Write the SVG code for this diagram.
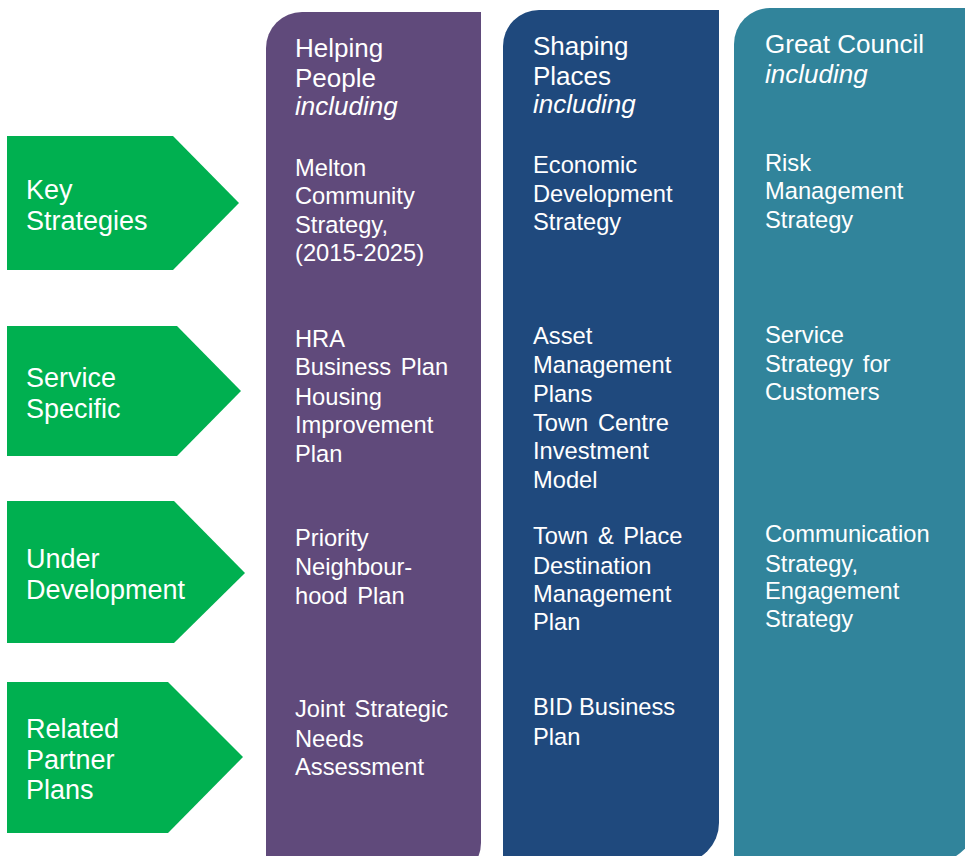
<svg xmlns="http://www.w3.org/2000/svg" width="965" height="856" viewBox="0 0 965 856">
<style>
text{font-family:"Liberation Sans",Arial,sans-serif;fill:#fff}
.h{font-size:26px}
.b{font-size:23.7px}
.g{font-size:27px}
.i{font-style:italic}
.ws{word-spacing:3px}
.green{fill:#00B050}
</style>
<rect width="965" height="856" fill="#fff"/>
<g id="col-helping-people">
<path d="M266,48 A36,36 0 0 1 302,12 H481 V843 A35,35 0 0 1 446,878 H266 Z" fill="#604A7B"/>
<text class="h" x="295" y="57">Helping</text>
<text class="h" x="295" y="87">People</text>
<text class="h i" x="295" y="115">including</text>
<text class="b" x="295" y="176">Melton</text>
<text class="b" x="295" y="204">Community</text>
<text class="b" x="295" y="233">Strategy,</text>
<text class="b" x="295" y="261">(2015-2025)</text>
<text class="b" x="295" y="347">HRA</text>
<text class="b ws" x="295" y="375">Business Plan</text>
<text class="b" x="295" y="405">Housing</text>
<text class="b" x="295" y="433">Improvement</text>
<text class="b" x="295" y="462">Plan</text>
<text class="b" x="295" y="546">Priority</text>
<text class="b" x="295" y="575">Neighbour-</text>
<text class="b ws" x="295" y="604">hood Plan</text>
<text class="b ws" x="295" y="717">Joint Strategic</text>
<text class="b" x="295" y="747">Needs</text>
<text class="b" x="295" y="775">Assessment</text>
</g>
<g id="col-shaping-places">
<path d="M503,46 A36,36 0 0 1 539,10 H719 V823 A40,40 0 0 1 679,863 H503 Z" fill="#1F497D"/>
<text class="h" x="533" y="55">Shaping</text>
<text class="h" x="533" y="85">Places</text>
<text class="h i" x="533" y="113">including</text>
<text class="b" x="533" y="173">Economic</text>
<text class="b" x="533" y="202">Development</text>
<text class="b" x="533" y="230">Strategy</text>
<text class="b" x="533" y="344">Asset</text>
<text class="b" x="533" y="373">Management</text>
<text class="b" x="533" y="402">Plans</text>
<text class="b ws" x="533" y="431">Town Centre</text>
<text class="b" x="533" y="459">Investment</text>
<text class="b" x="533" y="488">Model</text>
<text class="b ws" x="533" y="544">Town &amp; Place</text>
<text class="b" x="533" y="574">Destination</text>
<text class="b" x="533" y="602">Management</text>
<text class="b" x="533" y="630">Plan</text>
<text class="b" x="533" y="715">BID Business</text>
<text class="b" x="533" y="745">Plan</text>
</g>
<g id="col-great-council">
<path d="M734,44 A36,36 0 0 1 770,8 H975 V822 A40,40 0 0 1 935,862 H734 Z" fill="#31849B"/>
<text class="h" x="765" y="53">Great Council</text>
<text class="h i" x="765" y="83">including</text>
<text class="b" x="765" y="171">Risk</text>
<text class="b" x="765" y="199">Management</text>
<text class="b" x="765" y="228">Strategy</text>
<text class="b" x="765" y="343">Service</text>
<text class="b ws" x="765" y="372">Strategy for</text>
<text class="b" x="765" y="400">Customers</text>
<text class="b" x="765" y="542">Communication</text>
<text class="b" x="765" y="572">Strategy,</text>
<text class="b" x="765" y="599">Engagement</text>
<text class="b" x="765" y="627">Strategy</text>
</g>
<g id="arrow-key-strategies">
<polygon class="green" points="7,136 173,136 239,203 173,270 7,270"/>
<text class="g" x="26" y="199">Key</text>
<text class="g" x="26" y="230">Strategies</text>
</g>
<g id="arrow-service-specific">
<polygon class="green" points="7,326 177,326 241,391 177,456 7,456"/>
<text class="g" x="26" y="387">Service</text>
<text class="g" x="26" y="418">Specific</text>
</g>
<g id="arrow-under-development">
<polygon class="green" points="7,501 174,501 245,573 174,643 7,643"/>
<text class="g" x="26" y="568">Under</text>
<text class="g" x="26" y="599">Development</text>
</g>
<g id="arrow-related-partner-plans">
<polygon class="green" points="7,682 168,682 243,757 168,833 7,833"/>
<text class="g" x="26" y="738">Related</text>
<text class="g" x="26" y="769">Partner</text>
<text class="g" x="26" y="799">Plans</text>
</g>
</svg>
